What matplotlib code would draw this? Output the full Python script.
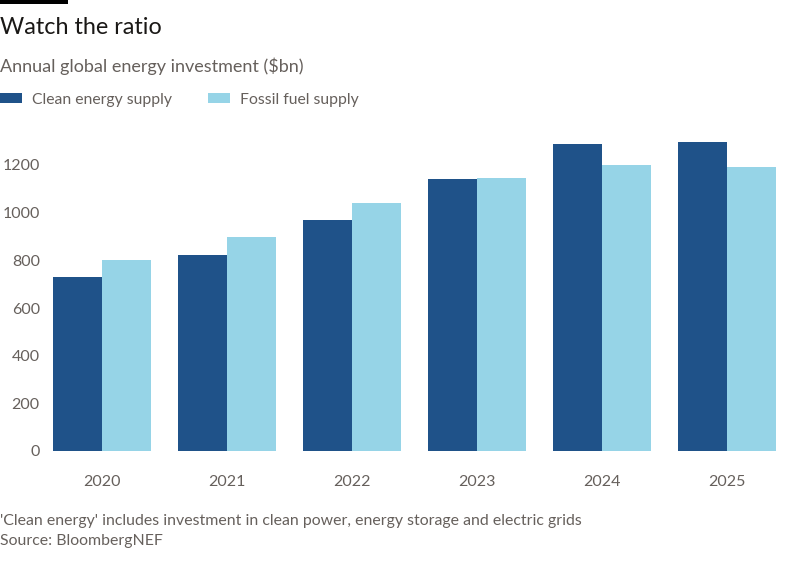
import matplotlib
matplotlib.use("Agg")
import matplotlib.pyplot as plt
from matplotlib.patches import Rectangle
import numpy as np

# values ($bn)
years = ["2020", "2021", "2022", "2023", "2024", "2025"]
clean_supply = [730, 822, 970, 1142, 1287, 1295]
fossil_supply = [802, 898, 1041, 1144, 1200, 1191]
y_ticks = [0, 200, 400, 600, 800, 1000, 1200]

CLEAN = "#1f5289"
FOSSIL = "#96d4e7"
GREY = "#66605c"

plt.rcParams["font.family"] = ["Lato", "DejaVu Sans"]

W, H = 800, 571
fig = plt.figure(figsize=(W / 100, H / 100), dpi=100)
fig.patch.set_facecolor("white")

# axes placed in pixel terms: 0 at y=451, group spacing 125px
x0_px, x1_px = 49.5, 779.5
ax = fig.add_axes([x0_px / W, (H - 451) / H, (x1_px - x0_px) / W, 314.6 / H])

x = np.arange(len(years))
bw = 0.39
ax.bar(x - bw / 2, clean_supply, width=bw, color=CLEAN, label="Clean energy supply")
ax.bar(x + bw / 2, fossil_supply, width=bw, color=FOSSIL, label="Fossil fuel supply")

ax.set_xlim(-0.42, 5.42)
ax.set_ylim(0, 1320)
ax.set_yticks(y_ticks)
ax.set_xticks(x)
ax.set_xticklabels(years)
ax.tick_params(axis="both", length=0, labelsize=11.5, labelcolor=GREY)
ax.tick_params(axis="x", pad=17)
ax.tick_params(axis="y", pad=7)
for s in ax.spines.values():
    s.set_visible(False)

# header
fig.add_artist(Rectangle((0, 1 - 4 / H), 68 / W, 4 / H, transform=fig.transFigure,
                         color="black", lw=0))
fig.text(0, 1 - 28 / H, "Watch the ratio", fontsize=16.8, color="#1a1816", va="center")
fig.text(0, 1 - 66 / H, "Annual global energy investment ($bn)", fontsize=13,
         color=GREY, va="center")

h, l = ax.get_legend_handles_labels()
fig.legend(h, l, loc="center left", bbox_to_anchor=(0, 1 - 100 / H), ncol=2,
           frameon=False, fontsize=11.3, labelcolor=GREY, handlelength=1.4,
           handleheight=0.6, handletextpad=0.65, columnspacing=2.3,
           borderaxespad=0, borderpad=0)

# footer
fig.text(0, 1 - 521 / H, "'Clean energy' includes investment in clean power, energy storage and electric grids",
         fontsize=11.4, color=GREY, va="center")
fig.text(0, 1 - 541 / H, "Source: BloombergNEF", fontsize=11.4, color=GREY, va="center")

fig.savefig("out.png", dpi=100)
plt.close(fig)
